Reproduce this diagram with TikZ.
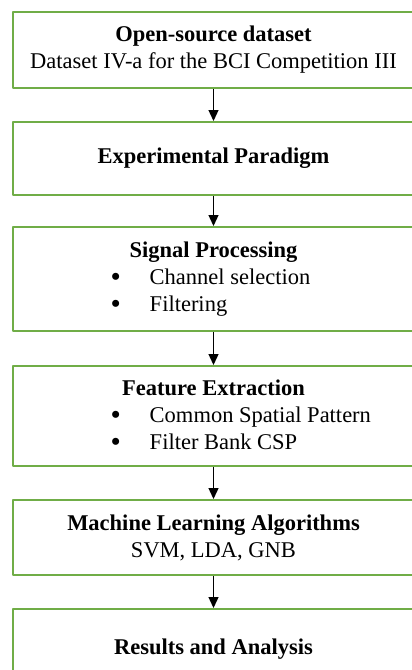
\documentclass[tikz,border=0pt]{standalone}
\usepackage{fontspec}
\setmainfont{Liberation Serif}
\usetikzlibrary{positioning,arrows.meta}
\definecolor{boxgreen}{RGB}{112,173,71}
\newcommand{\itm}[1]{\makebox[206pt][l]{\raisebox{-2pt}{\scalebox{1.3}{\textbullet}}\hspace{29pt}#1}}
\begin{document}
\begin{tikzpicture}[x=1pt,y=1pt,font=\fontsize{22.5}{27}\selectfont,line join=round,>={Triangle[length=11pt,width=10pt]}]
	\tikzset{stage/.style={draw=boxgreen,line width=2pt,minimum width=401pt,align=center,inner sep=2pt},
		flow/.style={->,line width=1.3pt}}
	\useasboundingbox (0,0) rectangle (412,-670);
	% stages, top to bottom
	\node[stage,minimum height=76pt] (data) at (213.5,-50) {\textbf{Open-source dataset}\\Dataset IV-a for the BCI Competition III};
	\node[stage,minimum height=73pt,below=32pt of data] (para) {\textbf{Experimental Paradigm}};
	\node[stage,minimum height=104pt,below=30pt of para] (sig) {\textbf{Signal Processing}\\\itm{Channel selection}\\\itm{Filtering}};
	\node[stage,minimum height=100pt,below=33pt of sig] (feat) {\textbf{Feature Extraction}\\\itm{Common Spatial Pattern}\\\itm{Filter Bank CSP}};
	\node[stage,minimum height=75pt,below=32pt of feat] (ml) {\textbf{Machine Learning Algorithms}\\SVM, LDA, GNB};
	\node[stage,minimum height=80pt,below=32pt of ml] (res) {\textbf{Results and Analysis}};
	% arrows
	\draw[flow] (data) -- (para);
	\draw[flow] (para) -- (sig);
	\draw[flow] (sig) -- (feat);
	\draw[flow] (feat) -- (ml);
	\draw[flow] (ml) -- (res);
\end{tikzpicture}
\end{document}
